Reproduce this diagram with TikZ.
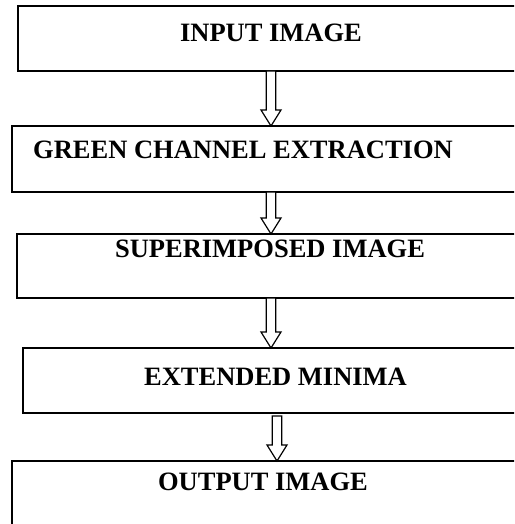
\documentclass[tikz,border=0pt]{standalone}
\usepackage{fontspec}
\setmainfont{Liberation Serif}
\usetikzlibrary{calc}
\tikzset{
  stagebox/.style={draw=black, line width=1.8pt, rectangle, inner sep=0pt, outer sep=0pt, anchor=north west},
  lbl/.style={font=\fontsize{26.5}{30}\selectfont\bfseries, inner sep=0pt, anchor=base},
  harrow/.style={draw=black, fill=white, line width=1.2pt, line join=miter}
}
\newcommand{\hollowarrow}[2]{%
  \draw[harrow] ($(#1)+(-4.7,0)$) -- ($(#2)+(-4.7,-16)$) -- ($(#2)+(-10,-16)$) -- (#2)
    -- ($(#2)+(10,-16)$) -- ($(#2)+(4.7,-16)$) -- ($(#1)+(4.7,0)$) -- cycle;}
\begin{document}
\begin{tikzpicture}[x=1pt, y=-1pt]
  \useasboundingbox (0,0) rectangle (514,524);
  \clip (0,0) rectangle (514,524);
  \node[stagebox, minimum width=520pt, minimum height=65pt] (b1) at (18,6) {};
  \node[stagebox, minimum width=525pt, minimum height=66pt] (b2) at (12,126) {};
  \node[stagebox, minimum width=520pt, minimum height=64pt] (b3) at (17,234) {};
  \node[stagebox, minimum width=515pt, minimum height=65pt] (b4) at (23,348) {};
  \node[stagebox, minimum width=525pt, minimum height=80pt] (b5) at (12,461) {};

  \node[lbl] (t1) at (271,42) {INPUT IMAGE};
  \node[lbl] (t2) at (243,158) {GREEN CHANNEL EXTRACTION};
  \node[lbl] (t3) at (270,257) {SUPERIMPOSED IMAGE};
  \node[lbl] (t4) at (275.5,385) {EXTENDED MINIMA};
  \node[lbl] (t5) at (263,490) {OUTPUT IMAGE};

  \coordinate (c1) at (271,0);
  \coordinate (c4) at (277,0);
  \coordinate (s1) at (b1.south -| c1);
  \coordinate (e1) at (b2.north -| c1);
  \coordinate (s2) at (b2.south -| c1);
  \coordinate (e2) at (b3.north -| c1);
  \coordinate (s3) at (b3.south -| c1);
  \coordinate (e3) at (b4.north -| c1);
  \coordinate (s4) at ($(b4.south -| c4)+(0,3)$);
  \coordinate (e4) at (b5.north -| c4);
  \hollowarrow{s1}{e1}
  \hollowarrow{s2}{e2}
  \hollowarrow{s3}{e3}
  \hollowarrow{s4}{e4}
\end{tikzpicture}
\end{document}
